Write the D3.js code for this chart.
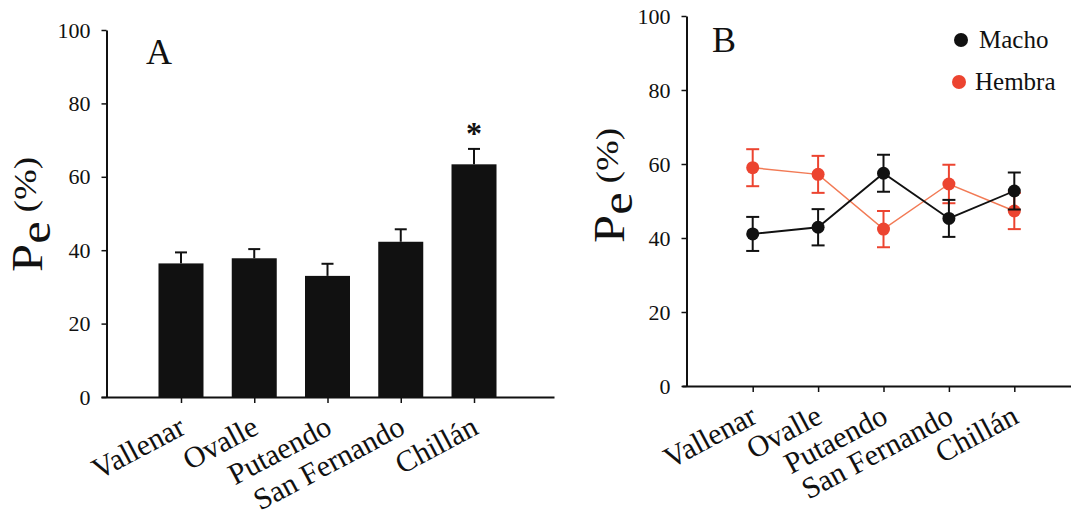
<!DOCTYPE html>
<html><head><meta charset="utf-8">
<script src="https://cdn.jsdelivr.net/npm/d3@7"></script>
<style>
body{margin:0;background:#fff}
svg{display:block}
svg text{font-family:"Liberation Serif",serif !important}
</style>
</head><body><svg id="c" width="1071" height="516" font-family="Liberation Serif"></svg>
<script>
// ---- data ----
const categories = ["Vallenar","Ovalle","Putaendo","San Fernando","Chillán"];
const poolMean = [36.4,37.8,33.0,42.3,63.4];
const poolErr = [3.0,2.5,3.3,3.4,4.2];
const significant = [false,false,false,false,true];
const machoMean = [41.1,42.9,57.5,45.3,52.7];
const machoErr = [4.6,4.9,5.0,5.0,5.0];
const hembraMean = [59.0,57.2,42.4,54.6,47.3];
const hembraErr = [5.0,5.0,4.9,5.2,4.9];
const yTicks = [0,20,40,60,80,100];
const seriesNames = ["Macho","Hembra"];
const panelLetters = ["A","B"];

const FONT = '"Liberation Serif", serif';
const svg = d3.select("#c");
const BLACK = "#111", RED = "#ec4430", REDLINE = "#f27a55";

function txt(sel) { return sel.attr("font-family", "Liberation Serif").style("font-family", FONT).style("fill", BLACK); }

function drawYAxis(g, y, x0) {
  const ax = g.append("g").attr("transform",`translate(${x0},0)`)
    .call(d3.axisLeft(y).tickValues(yTicks).tickSize(5).tickSizeOuter(0).tickPadding(11));
  ax.attr("font-family", "Liberation Serif");
  ax.select(".domain").attr("stroke",BLACK).attr("stroke-width",2);
  ax.selectAll(".tick line").attr("stroke",BLACK).attr("stroke-width",1.5);
  txt(ax.selectAll(".tick text")).style("font-size","22px");
}
function drawXAxis(g, x, y0) {
  const ax = g.append("g").attr("transform",`translate(0,${y0})`)
    .call(d3.axisBottom(x).tickSize(6).tickSizeOuter(0).tickFormat(""));
  ax.select(".domain").attr("stroke",BLACK).attr("stroke-width",2);
  ax.selectAll(".tick line").attr("stroke",BLACK).attr("stroke-width",1.5);
  txt(g.selectAll(null).data(categories).enter().append("text")
    .attr("transform", d => `translate(${x(d)+6},${y0+36}) rotate(-28)`)
    .attr("text-anchor","end").style("font-size","30px").text(d => d));
}
function yLabel(g, bx, by) {
  const t = txt(g.append("text").attr("transform",`translate(${bx},${by}) rotate(-90) scale(1.15,1)`));
  t.append("tspan").style("font-size","44px").text("P");
  t.append("tspan").style("font-size","44px").attr("dy",8).text("e");
  t.append("tspan").style("font-size","32px").attr("dy",-14).attr("dx",8).text("(%)");
}

// ---- Panel A ----
const gA = svg.append("g");
const yA = d3.scaleLinear().domain([0,100]).range([397,30]);
const xA = d3.scalePoint().domain(categories).range([101,554]).padding(1.092);
const barW = 45;
drawYAxis(gA, yA, 106.5);
gA.selectAll("rect.bar").data(categories).enter().append("rect")
  .attr("x", d => xA(d)-barW/2).attr("width", barW)
  .attr("y", (d,i) => yA(poolMean[i])).attr("height", (d,i) => yA(0)-yA(poolMean[i]))
  .attr("fill", BLACK);
gA.selectAll("line.eb").data(categories).enter().append("line")
  .attr("x1", d => xA(d)).attr("x2", d => xA(d))
  .attr("y1", (d,i) => yA(poolMean[i])).attr("y2", (d,i) => yA(poolMean[i]+poolErr[i]))
  .attr("stroke", BLACK).attr("stroke-width",2);
gA.selectAll("line.cap").data(categories).enter().append("line")
  .attr("x1", d => xA(d)-6).attr("x2", d => xA(d)+6)
  .attr("y1", (d,i) => yA(poolMean[i]+poolErr[i])).attr("y2", (d,i) => yA(poolMean[i]+poolErr[i]))
  .attr("stroke", BLACK).attr("stroke-width",2);
txt(gA.selectAll("text.sig").data(categories.filter((d,i)=>significant[i])).enter().append("text")
  .attr("x", d => xA(d)).attr("y", d => { const i = categories.indexOf(d); return yA(poolMean[i]+poolErr[i]) - 5; })
  .attr("text-anchor","middle").style("font-size","32px").style("font-weight","bold").text("*"));
drawXAxis(gA, xA, 397);
yLabel(gA, 42, 272);
txt(gA.append("text").attr("x",146).attr("y",64).style("font-size","36px").text(panelLetters[0]));

// ---- Panel B ----
const gB = svg.append("g");
const yB = d3.scaleLinear().domain([0,100]).range([386,16]);
const xB = d3.scalePoint().domain(categories).range([682,1085]).padding(1.081);
drawYAxis(gB, yB, 686.5);
drawXAxis(gB, xB, 386);
yLabel(gB, 624, 243);
txt(gB.append("text").attr("x",712).attr("y",52).style("font-size","36px").text(panelLetters[1]));

function drawSeries(g, means, errs, color, lineColor, lw) {
  const line = d3.line().x((d,i) => xB(categories[i])).y(d => yB(d));
  g.append("path").datum(means).attr("d", line).attr("fill","none")
    .attr("stroke", lineColor).attr("stroke-width", lw);
  const eb = g.selectAll(null).data(categories).enter().append("g").attr("stroke", color).attr("stroke-width",2);
  eb.append("line").attr("x1", d => xB(d)).attr("x2", d => xB(d))
    .attr("y1", (d,i) => yB(means[i]-errs[i])).attr("y2", (d,i) => yB(means[i]+errs[i]));
  eb.append("line").attr("x1", d => xB(d)-6.5).attr("x2", d => xB(d)+6.5)
    .attr("y1", (d,i) => yB(means[i]+errs[i])).attr("y2", (d,i) => yB(means[i]+errs[i]));
  eb.append("line").attr("x1", d => xB(d)-6.5).attr("x2", d => xB(d)+6.5)
    .attr("y1", (d,i) => yB(means[i]-errs[i])).attr("y2", (d,i) => yB(means[i]-errs[i]));
  g.selectAll(null).data(categories).enter().append("circle")
    .attr("cx", d => xB(d)).attr("cy", (d,i) => yB(means[i])).attr("r", 6.5).attr("fill", color);
}
drawSeries(gB, hembraMean, hembraErr, RED, REDLINE, 1.5);
drawSeries(gB, machoMean, machoErr, BLACK, BLACK, 1.8);

// legend
const legColors = [BLACK, RED];
const legY = [40, 82];
const legX = [961, 959];
const legTX = [979, 975];
seriesNames.forEach((s,i) => {
  gB.append("circle").attr("cx", legX[i]).attr("cy", legY[i]).attr("r", 7).attr("fill", legColors[i]);
  txt(gB.append("text").attr("x", legTX[i]).attr("y", legY[i]+8).style("font-size","25px").text(s));
});
</script>
</body></html>
